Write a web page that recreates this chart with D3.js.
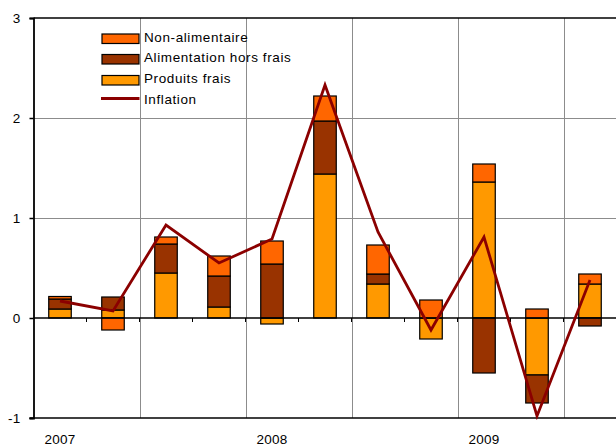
<!DOCTYPE html>
<html>
<head>
<meta charset="utf-8">
<script src="https://cdn.jsdelivr.net/npm/d3@7"></script>
<style>
  html, body { margin: 0; padding: 0; background: #fff; }
  svg { display: block; font-family: "Liberation Sans", Arial, sans-serif; }
</style>
</head>
<body>
<svg id="chart" width="616" height="446"></svg>
<script>
// Quarterly contributions to inflation (points), 2007 Q1 – 2009 Q3
const quarters = ["2007T1", "2007T2", "2007T3", "2007T4", "2008T1", "2008T2",
                  "2008T3", "2008T4", "2009T1", "2009T2", "2009T3"];
const yearLabels = ["2007", "", "", "", "2008", "", "", "", "2009", "", ""];

const produitsFrais        = [0.09, 0.08, 0.45, 0.11, -0.06, 1.44, 0.34, -0.21, 1.36, -0.57, 0.34];
const alimentationHorsFrais = [0.10, 0.13, 0.29, 0.31, 0.54, 0.53, 0.10, 0.00, -0.55, -0.28, -0.08];
const nonAlimentaire       = [0.025, -0.12, 0.07, 0.20, 0.23, 0.25, 0.29, 0.18, 0.18, 0.09, 0.10];
const inflation            = [0.17, 0.07, 0.93, 0.55, 0.79, 2.33, 0.86, -0.12, 0.81, -0.98, 0.38];

const yTicks = [-1, 0, 1, 2, 3];

const seriesKeys = ["pf", "ahf", "na"];
const seriesNames = { na: "Non-alimentaire", ahf: "Alimentation hors frais", pf: "Produits frais" };
const colors = { na: "#FF6600", ahf: "#993300", pf: "#FF9900" };
const lineColor = "#8B0000";

const rows = quarters.map((q, i) => ({
  q, pf: produitsFrais[i], ahf: alimentationHorsFrais[i], na: nonAlimentaire[i], infl: inflation[i]
}));

const svg = d3.select("#chart");
const plotLeft = 33.5, plotRight = 616, plotTop = 18, plotBottom = 418;

const x = d3.scaleBand().domain(quarters).range([plotLeft, plotLeft + 53 * quarters.length])
  .paddingInner(0.575).paddingOuter(0.2875);
const step = x.step();
const y = d3.scaleLinear().domain([-1, 3]).range([plotBottom, plotTop]);

// horizontal gridlines
svg.append("g").selectAll("line").data([1, 2]).join("line")
  .attr("x1", plotLeft).attr("x2", plotRight)
  .attr("y1", d => Math.round(y(d)) + 0.5).attr("y2", d => Math.round(y(d)) + 0.5)
  .attr("stroke", "#8c8c8c").attr("stroke-width", 1);

// vertical gridlines every second quarter
const boundaries = quarters.map((q, i) => plotLeft + i * step);
svg.append("g").selectAll("line").data(boundaries.filter((b, i) => i > 0 && i % 2 === 0)).join("line")
  .attr("x1", d => Math.round(d) + 0.5).attr("x2", d => Math.round(d) + 0.5)
  .attr("y1", plotTop).attr("y2", plotBottom)
  .attr("stroke", "#8c8c8c").attr("stroke-width", 1);

// stacked bars, positives above zero and negatives below
const stack = d3.stack().keys(seriesKeys).offset(d3.stackOffsetDiverging);
const layers = stack(rows);

svg.append("g").selectAll("g").data(layers).join("g")
  .attr("fill", d => colors[d.key])
  .selectAll("rect").data(d => d).join("rect")
  .attr("x", d => x(d.data.q))
  .attr("width", x.bandwidth())
  .attr("y", d => y(Math.max(d[0], d[1])))
  .attr("height", d => Math.abs(y(d[0]) - y(d[1])))
  .attr("stroke", "#000").attr("stroke-width", 1.2);

// plot frame: top and bottom borders
svg.append("line").attr("x1", plotLeft).attr("x2", plotRight).attr("y1", plotTop).attr("y2", plotTop)
  .attr("stroke", "#000").attr("stroke-width", 1.5);
svg.append("line").attr("x1", plotLeft - 4).attr("x2", plotRight).attr("y1", plotBottom).attr("y2", plotBottom)
  .attr("stroke", "#000").attr("stroke-width", 1.5);

// zero line with quarter ticks
svg.append("line").attr("x1", plotLeft).attr("x2", plotRight).attr("y1", y(0)).attr("y2", y(0))
  .attr("stroke", "#000").attr("stroke-width", 1.5);
svg.append("g").selectAll("line").data(boundaries.slice(1)).join("line")
  .attr("x1", d => d).attr("x2", d => d)
  .attr("y1", y(0)).attr("y2", y(0) + 4)
  .attr("stroke", "#000").attr("stroke-width", 1);

// value axis
const yAxis = svg.append("g").attr("transform", `translate(${plotLeft},0)`)
  .call(d3.axisLeft(y).tickValues(yTicks).tickSize(4).tickPadding(9).tickFormat(d => String(d)));
yAxis.select(".domain").attr("stroke-width", 1.8);
yAxis.selectAll(".tick line").attr("stroke-width", 1.5);
yAxis.selectAll("text").attr("font-size", 13.5).attr("fill", "#000")
  .attr("letter-spacing", 0.3)
  .attr("font-family", "Liberation Sans, Arial, sans-serif");

// inflation line
const line = d3.line().x(d => x(d.q) + x.bandwidth() / 2).y(d => y(d.infl));
svg.append("path").datum(rows).attr("d", line)
  .attr("fill", "none").attr("stroke", lineColor).attr("stroke-width", 2.8)
  .attr("stroke-linejoin", "miter");

// year labels
svg.append("g").selectAll("text").data(rows.map((r, i) => ({ q: r.q, label: yearLabels[i] })).filter(d => d.label))
  .join("text")
  .attr("x", d => x(d.q) + x.bandwidth() / 2).attr("y", 444)
  .attr("text-anchor", "middle").attr("font-size", 13.5).attr("letter-spacing", 0.2).attr("fill", "#000")
  .text(d => d.label);

// legend
const legendItems = [
  { key: "na", type: "rect", y: 34 },
  { key: "ahf", type: "rect", y: 54.5 },
  { key: "pf", type: "rect", y: 75.5 },
  { key: "infl", type: "line", y: 98.5 }
];
const legend = svg.append("g");
legendItems.forEach(it => {
  if (it.type === "rect") {
    legend.append("rect").attr("x", 102).attr("y", it.y).attr("width", 37).attr("height", 9.5)
      .attr("fill", colors[it.key]).attr("stroke", "#000").attr("stroke-width", 1.2);
  } else {
    legend.append("line").attr("x1", 101).attr("x2", 139.5).attr("y1", it.y).attr("y2", it.y)
      .attr("stroke", lineColor).attr("stroke-width", 2.8);
  }
  legend.append("text").attr("x", 144).attr("y", it.y + (it.type === "rect" ? 7.5 : 5.5))
    .attr("font-size", 13.5).attr("letter-spacing", 0.6).attr("fill", "#000")
    .text(it.key === "infl" ? "Inflation" : seriesNames[it.key]);
});
</script>
</body>
</html>
